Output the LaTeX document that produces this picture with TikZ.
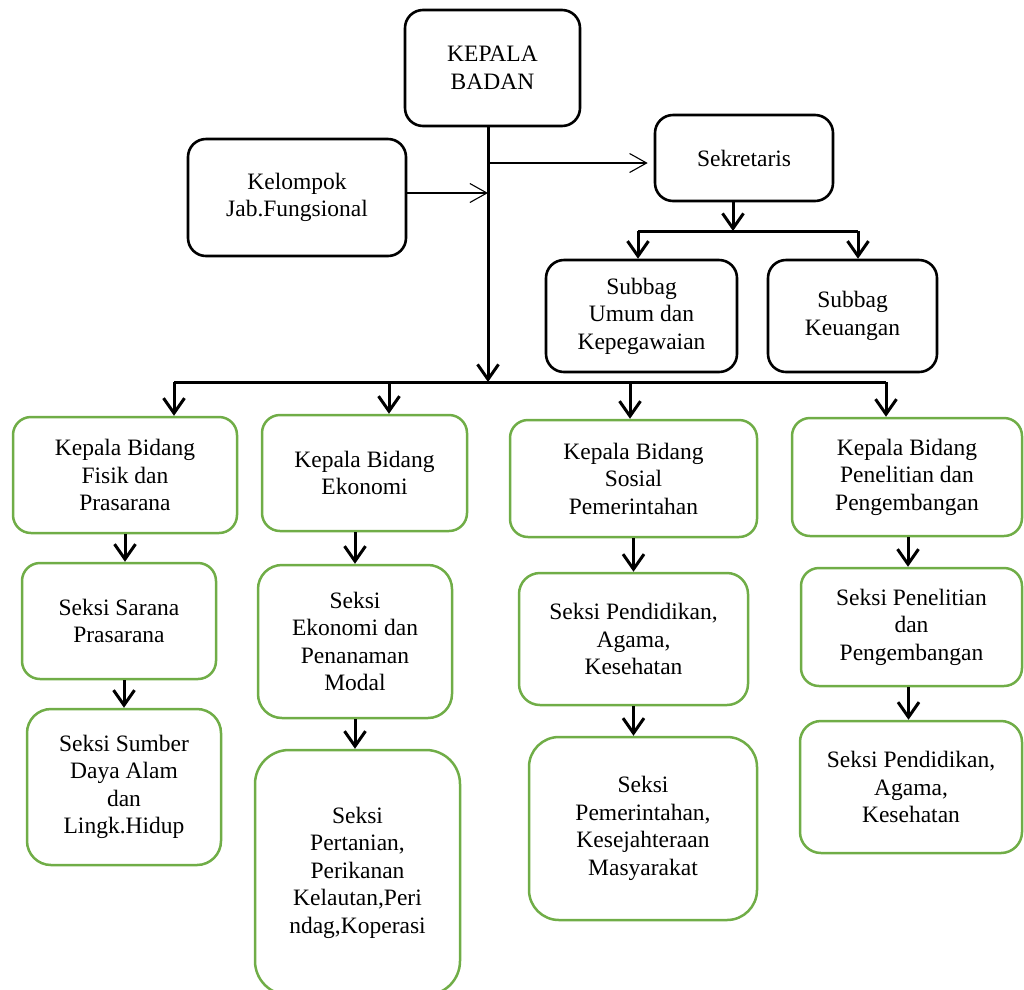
\documentclass[tikz,border=0pt]{standalone}
\usepackage{fontspec}
\setmainfont{Liberation Serif}
\usepackage{tikz}
\usetikzlibrary{arrows.meta}
\usepackage{xcolor}
\definecolor{hijau}{HTML}{70AD47}

\tikzset{
  hitambox/.style={draw=black,line width=2.6pt,rounded corners=18pt,align=center,inner sep=0pt,
    font=\fontsize{23.5}{27.5}\selectfont},
  hijaubox/.style={draw=hijau,line width=2.5pt,rounded corners=18pt,align=center,inner sep=0pt,
    font=\fontsize{23.5}{27.5}\selectfont},
  tebal/.style={draw=black,line width=3pt},
  tebalarrow/.style={tebal,-{Straight Barb[length=15pt,width=21pt,line width=3pt]}},
  tipisarrow/.style={draw=black,line width=1.1pt,-{Straight Barb[length=17pt,width=19pt]}}
}

\begin{document}
\begin{tikzpicture}[x=1pt,y=-1pt]
  \useasboundingbox (0,0) rectangle (1024,989);

  \node[hitambox,minimum width=175pt,minimum height=116pt] (KeBa) at (492.5,68) {KEPALA\\BADAN};
  \node[hitambox,minimum width=218pt,minimum height=117pt] (KeJa) at (297,197.5) {Kelompok\\Jab.Fungsional};
  \node[hitambox,minimum width=178pt,minimum height=86pt] (Sekr) at (744,158) {Sekretaris};
  \node[hitambox,minimum width=191pt,minimum height=112pt] (SuUm) at (641.5,316) {Subbag\\Umum dan\\Kepegawaian};
  \node[hitambox,minimum width=169pt,minimum height=112pt] (SuKe) at (852.5,316) {Subbag\\Keuangan};

  % %kepala bidang
  \node[hijaubox,minimum width=224pt,minimum height=116pt] (KBFi) at (125,475) {Kepala Bidang\\Fisik dan\\Prasarana};
  \node[hijaubox,minimum width=205pt,minimum height=116pt] (KBEk) at (364.5,473) {Kepala Bidang\\Ekonomi};
  \node[hijaubox,minimum width=247pt,minimum height=117pt] (KBSo) at (633.5,478.5) {Kepala Bidang\\Sosial\\Pemerintahan};
  \node[hijaubox,minimum width=230pt,minimum height=118pt] (KBPe) at (907,477) {Kepala Bidang\\Penelitian dan\\Pengembangan};

  % %seksi
  \node[hijaubox,minimum width=194pt,minimum height=116pt] (SeSa) at (119,621) {Seksi Sarana\\Prasarana};
  \node[hijaubox,minimum width=194pt,minimum height=153pt,rounded corners=24pt] (SeEk) at (355,641.5) {Seksi\\Ekonomi dan\\Penanaman\\Modal};
  \node[hijaubox,minimum width=229pt,minimum height=132pt,rounded corners=21pt] (SePA) at (633.5,639) {Seksi Pendidikan,\\Agama,\\Kesehatan};
  \node[hijaubox,minimum width=221pt,minimum height=118pt] (SePP) at (911.5,627) {Seksi Penelitian\\dan\\Pengembangan};

  \node[hijaubox,minimum width=194pt,minimum height=156pt,rounded corners=24pt] (SeSu) at (124,787) {Seksi Sumber\\Daya Alam\\dan\\Lingk.Hidup};
  \node[hijaubox,minimum width=205pt,minimum height=245pt,rounded corners=34pt] (SePe) at (357.5,872.5) {Seksi\\Pertanian,\\Perikanan\\Kelautan,Peri\\ndag,Koperasi};
  \node[hijaubox,minimum width=228pt,minimum height=183pt,rounded corners=30pt] (SePK) at (643,828.5) {Seksi\\Pemerintahan,\\Kesejahteraan\\Masyarakat};
  \node[hijaubox,minimum width=222pt,minimum height=132pt,rounded corners=21pt] (SeAK) at (911,787) {Seksi Pendidikan,\\Agama,\\Kesehatan};

  % %garis utama
  \coordinate (bar) at (488,382);
  \coordinate (d1) at (174,382);
  \coordinate (d2) at (389,382);
  \coordinate (d3) at (630,382);
  \coordinate (d4) at (886,382);

  \draw[tipisarrow] ([yshift=4.5pt]KeJa.east) to ([yshift=4.5pt]KeJa.east -| bar);
  \draw[tipisarrow,shorten >=6pt] ([yshift=-5pt]Sekr.west -| bar) to ([yshift=-5pt]Sekr.west);
  \draw[tebalarrow] (KeBa.south -| bar) to (bar);
  \draw[tebal] (d1) to (d4);
  \draw[tebalarrow] (d1) to (d1 |- KBFi.north);
  \draw[tebalarrow] (d2) to (d2 |- KBEk.north);
  \draw[tebalarrow] (d3) to (d3 |- KBSo.north);
  \draw[tebalarrow] (d4) to (d4 |- KBPe.north);

  % %sekretaris
  \coordinate (sb) at (733,231);
  \coordinate (sl) at (638,231);
  \coordinate (sr) at (858,231);
  \draw[tebalarrow] (Sekr.south -| sb) to (sb);
  \draw[tebal] (sl) to (sr);
  \draw[tebalarrow] (sl) to (sl |- SuUm.north);
  \draw[tebalarrow] (sr) to (sr |- SuKe.north);

  % %bidang ke seksi
  \draw[tebalarrow] (KBFi.south) to (KBFi.south |- SeSa.north);
  \draw[tebalarrow] (SeEk.north |- KBEk.south) to (SeEk.north);
  \draw[tebalarrow] (KBSo.south) to (KBSo.south |- SePA.north);
  \draw[tebalarrow] ([xshift=1pt]KBPe.south) to ([xshift=1pt]KBPe.south |- SePP.north);

  \draw[tebalarrow] (SeSu.north |- SeSa.south) to (SeSu.north);
  \draw[tebalarrow] (SeEk.south) to (SeEk.south |- SePe.north);
  \draw[tebalarrow] (SePA.south) to (SePA.south |- SePK.north);
  \draw[tebalarrow] ([xshift=-3pt]SePP.south) to ([xshift=-3pt]SePP.south |- SeAK.north);

\end{tikzpicture}
\end{document}
